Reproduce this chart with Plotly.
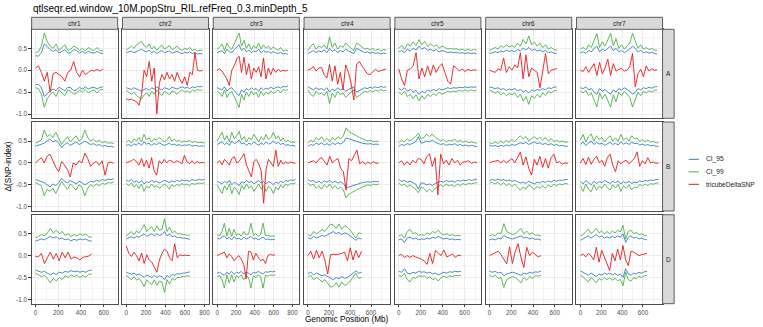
import numpy as np
import plotly.graph_objects as go

CHROMS = ["chr1", "chr2", "chr3", "chr4", "chr5", "chr6", "chr7"]
GENOMES = ["A", "B", "D"]

# chromosome lengths (Mb) for each sub-genome
LEN_A = [594, 780, 750, 744, 709, 618, 736]
LEN_B = [689, 801, 830, 673, 713, 720, 750]
LEN_D = [495, 651, 615, 509, 566, 473, 638]

Y_TICKS = [-1.0, -0.5, 0.0, 0.5]
Y_TICK_TEXT = ["-1.0", "-0.5", "0.0", "0.5"]
Y_MINOR = [-0.75, -0.25, 0.25, 0.75]
X_TICKS = [0, 200, 400, 600, 800]
X_MINOR = [100, 300, 500, 700]

TITLE = "qtlseqr.ed.window_10M.popStru_RIL.refFreq_0.3.minDepth_5"
X_TITLE = "Genomic Position (Mb)"
Y_TITLE = "Δ(SNP-index)"
LEGEND_NAMES = ["CI_95", "CI_99", "tricubeDeltaSNP"]

# ---- sub-genome A -------------------------------------------------------
CI95_1A = [0.33, 0.32, 0.40, 0.60, 0.54, 0.47, 0.43, 0.47, 0.39, 0.43, 0.47, 0.39, 0.40, 0.47, 0.45, 0.39, 0.43, 0.38, 0.43, 0.40, 0.39, 0.43, 0.39, 0.38]
CI99_1A = [0.40, 0.42, 0.55, 0.85, 0.65, 0.55, 0.50, 0.60, 0.45, 0.52, 0.58, 0.45, 0.48, 0.55, 0.52, 0.45, 0.50, 0.44, 0.52, 0.47, 0.45, 0.52, 0.45, 0.44]
DELTA_1A = [0.05, 0.10, -0.05, -0.25, -0.05, -0.50, -0.08, -0.05, -0.10, -0.15, -0.25, -0.05, 0.00, 0.20, -0.05, -0.15, 0.00, -0.10, -0.05, 0.00, -0.02, 0.02, -0.02, 0.03]

CI95_2A = [0.40, 0.42, 0.44, 0.40, 0.43, 0.45, 0.48, 0.44, 0.42, 0.46, 0.40, 0.43, 0.38, 0.42, 0.45, 0.40, 0.42, 0.44, 0.39, 0.41, 0.43, 0.40, 0.38, 0.41, 0.39, 0.42, 0.38, 0.40, 0.37, 0.38, 0.37]
CI99_2A = [0.46, 0.50, 0.55, 0.50, 0.58, 0.62, 0.66, 0.56, 0.52, 0.60, 0.48, 0.55, 0.45, 0.52, 0.58, 0.48, 0.52, 0.56, 0.47, 0.50, 0.55, 0.48, 0.45, 0.50, 0.47, 0.52, 0.45, 0.48, 0.44, 0.46, 0.45]
DELTA_2A = [-0.65, -0.68, -0.66, -0.70, -0.72, -0.80, -0.55, 0.00, -0.15, 0.20, -0.25, 0.05, -1.00, -0.30, -0.10, -0.22, -0.05, -0.20, -0.10, -0.25, -0.05, -0.20, -0.30, -0.15, -0.35, -0.05, -0.10, 0.40, 0.00, -0.02, 0.00]

CI95_3A = [0.40, 0.42, 0.45, 0.38, 0.48, 0.42, 0.40, 0.47, 0.52, 0.58, 0.45, 0.50, 0.42, 0.46, 0.40, 0.44, 0.42, 0.48, 0.40, 0.45, 0.41, 0.43, 0.39, 0.42, 0.40, 0.38, 0.41, 0.37, 0.38, 0.36]
CI99_3A = [0.48, 0.52, 0.60, 0.45, 0.62, 0.52, 0.48, 0.60, 0.70, 0.85, 0.55, 0.68, 0.50, 0.60, 0.47, 0.56, 0.50, 0.62, 0.48, 0.58, 0.50, 0.55, 0.47, 0.53, 0.49, 0.45, 0.52, 0.44, 0.46, 0.44]
DELTA_3A = [0.00, 0.03, -0.02, -0.10, -0.20, -0.35, 0.00, 0.10, 0.25, 0.32, -0.05, 0.30, -0.10, 0.15, -0.20, 0.05, -0.05, 0.08, -0.15, 0.28, -0.20, 0.05, -0.10, 0.05, -0.05, 0.02, -0.03, 0.00, -0.02, 0.00]

CI95_4A = [0.38, 0.42, 0.45, 0.40, 0.44, 0.42, 0.46, 0.40, 0.50, 0.43, 0.47, 0.40, 0.45, 0.42, 0.48, 0.44, 0.41, 0.38, 0.50, 0.47, 0.43, 0.40, 0.42, 0.39, 0.41, 0.38, 0.40, 0.37, 0.39, 0.38]
CI99_4A = [0.45, 0.55, 0.60, 0.48, 0.55, 0.52, 0.58, 0.48, 0.76, 0.52, 0.62, 0.48, 0.56, 0.52, 0.62, 0.55, 0.50, 0.45, 0.62, 0.58, 0.52, 0.48, 0.50, 0.46, 0.50, 0.45, 0.48, 0.44, 0.47, 0.46]
DELTA_4A = [0.00, 0.03, 0.08, -0.02, 0.05, 0.06, -0.10, -0.18, 0.13, -0.25, 0.10, -0.32, -0.05, -0.45, 0.12, -0.05, -0.30, -0.68, 0.13, 0.20, 0.10, 0.02, -0.08, -0.10, -0.05, 0.02, -0.03, -0.01, 0.00, 0.03]

CI95_5A = [0.42, 0.45, 0.40, 0.48, 0.44, 0.50, 0.46, 0.55, 0.48, 0.52, 0.45, 0.48, 0.44, 0.47, 0.42, 0.45, 0.43, 0.40, 0.42, 0.40, 0.41, 0.39, 0.40, 0.38, 0.40, 0.38, 0.39, 0.38]
CI99_5A = [0.50, 0.56, 0.48, 0.60, 0.55, 0.65, 0.56, 0.70, 0.58, 0.66, 0.55, 0.60, 0.54, 0.58, 0.50, 0.55, 0.52, 0.48, 0.50, 0.48, 0.49, 0.46, 0.48, 0.45, 0.48, 0.45, 0.47, 0.46]
DELTA_5A = [0.03, -0.20, -0.35, 0.00, 0.03, 0.10, 0.40, -0.20, 0.05, -0.15, 0.10, -0.12, 0.12, -0.05, 0.08, 0.15, -0.05, -0.25, -0.32, 0.10, 0.05, -0.02, 0.03, -0.03, 0.02, -0.01, 0.01, 0.00]

CI95_6A = [0.38, 0.40, 0.42, 0.40, 0.44, 0.42, 0.46, 0.43, 0.45, 0.42, 0.47, 0.44, 0.50, 0.46, 0.52, 0.45, 0.48, 0.44, 0.46, 0.42, 0.45, 0.40, 0.42, 0.39, 0.38]
CI99_6A = [0.45, 0.48, 0.52, 0.48, 0.56, 0.52, 0.58, 0.53, 0.56, 0.52, 0.62, 0.55, 0.70, 0.60, 0.78, 0.58, 0.64, 0.55, 0.62, 0.52, 0.58, 0.48, 0.52, 0.47, 0.46]
DELTA_6A = [0.00, -0.03, -0.05, 0.03, 0.00, 0.28, -0.05, 0.08, 0.00, 0.12, 0.05, 0.40, -0.20, 0.35, -0.15, 0.05, 0.00, -0.05, -0.40, -0.05, 0.38, -0.08, 0.00, 0.02, 0.04]

CI95_7A = [0.40, 0.42, 0.38, 0.45, 0.42, 0.50, 0.55, 0.42, 0.48, 0.44, 0.50, 0.55, 0.45, 0.50, 0.42, 0.45, 0.40, 0.44, 0.48, 0.55, 0.50, 0.42, 0.45, 0.40, 0.42, 0.39, 0.41, 0.38, 0.37]
CI99_7A = [0.48, 0.52, 0.46, 0.58, 0.52, 0.68, 0.84, 0.52, 0.65, 0.55, 0.70, 0.84, 0.56, 0.72, 0.50, 0.58, 0.48, 0.55, 0.62, 0.84, 0.68, 0.50, 0.58, 0.48, 0.52, 0.47, 0.50, 0.46, 0.45]
DELTA_7A = [0.00, -0.03, 0.08, -0.05, 0.05, 0.15, -0.12, 0.18, -0.08, 0.05, 0.25, -0.12, 0.15, -0.02, 0.02, 0.04, -0.02, 0.00, 0.08, 0.38, -0.38, -0.08, 0.02, -0.15, 0.10, -0.02, 0.03, 0.00, 0.01]

# ---- sub-genome B -------------------------------------------------------
CI95_1B = [0.38, 0.40, 0.42, 0.45, 0.50, 0.55, 0.48, 0.52, 0.45, 0.35, 0.42, 0.46, 0.40, 0.44, 0.48, 0.42, 0.45, 0.50, 0.46, 0.42, 0.44, 0.40, 0.42, 0.38, 0.40, 0.37, 0.38, 0.36]
CI99_1B = [0.45, 0.48, 0.52, 0.75, 0.60, 0.65, 0.58, 0.70, 0.55, 0.42, 0.52, 0.60, 0.48, 0.55, 0.62, 0.50, 0.55, 0.75, 0.58, 0.50, 0.54, 0.48, 0.52, 0.46, 0.49, 0.45, 0.46, 0.44]
DELTA_1B = [0.00, 0.05, 0.12, 0.00, 0.15, 0.20, 0.05, -0.10, -0.20, 0.03, -0.05, -0.15, -0.32, 0.00, -0.05, 0.05, 0.00, 0.22, 0.10, -0.08, 0.00, 0.03, -0.05, 0.05, -0.28, 0.00, 0.02, -0.01]

CI95_2B = [0.40, 0.42, 0.38, 0.44, 0.41, 0.46, 0.40, 0.48, 0.43, 0.45, 0.40, 0.44, 0.42, 0.46, 0.43, 0.40, 0.42, 0.45, 0.41, 0.43, 0.40, 0.42, 0.39, 0.41, 0.40, 0.42, 0.38, 0.40, 0.39, 0.38, 0.39, 0.38]
CI99_2B = [0.47, 0.52, 0.45, 0.55, 0.50, 0.58, 0.48, 0.65, 0.53, 0.57, 0.48, 0.55, 0.52, 0.58, 0.54, 0.48, 0.52, 0.60, 0.50, 0.54, 0.49, 0.52, 0.47, 0.50, 0.48, 0.52, 0.46, 0.49, 0.47, 0.46, 0.47, 0.45]
DELTA_2B = [0.00, 0.02, 0.05, 0.08, 0.03, -0.05, 0.10, -0.08, 0.06, -0.12, 0.12, -0.18, -0.28, 0.05, -0.02, 0.08, 0.00, 0.06, 0.04, 0.00, 0.05, 0.02, -0.02, 0.17, 0.03, -0.02, 0.05, -0.02, 0.03, 0.00, 0.01, 0.00]

CI95_3B = [0.42, 0.45, 0.48, 0.42, 0.46, 0.40, 0.50, 0.44, 0.47, 0.52, 0.43, 0.46, 0.40, 0.45, 0.42, 0.48, 0.44, 0.40, 0.46, 0.42, 0.48, 0.43, 0.45, 0.50, 0.44, 0.47, 0.42, 0.45, 0.40, 0.42, 0.39, 0.40, 0.38]
CI99_3B = [0.50, 0.60, 0.70, 0.52, 0.62, 0.48, 0.70, 0.55, 0.62, 0.72, 0.52, 0.60, 0.48, 0.58, 0.52, 0.65, 0.55, 0.48, 0.60, 0.52, 0.65, 0.53, 0.58, 0.70, 0.55, 0.62, 0.50, 0.57, 0.48, 0.52, 0.47, 0.48, 0.46]
DELTA_3B = [0.00, 0.05, -0.04, 0.08, 0.02, -0.05, 0.10, 0.14, 0.00, 0.04, 0.12, 0.21, -0.05, -0.20, -0.32, 0.03, 0.08, -0.02, -0.18, -0.92, -0.15, 0.08, 0.00, -0.08, 0.29, -0.08, 0.06, -0.03, 0.02, -0.01, 0.02, 0.00, -0.01]

CI95_4B = [0.38, 0.42, 0.40, 0.45, 0.42, 0.46, 0.41, 0.44, 0.40, 0.45, 0.42, 0.46, 0.43, 0.47, 0.57, 0.55, 0.52, 0.50, 0.48, 0.47, 0.45, 0.44, 0.43, 0.44, 0.42, 0.43, 0.42]
CI99_4B = [0.45, 0.52, 0.48, 0.58, 0.52, 0.60, 0.50, 0.56, 0.48, 0.58, 0.52, 0.60, 0.55, 0.62, 0.80, 0.72, 0.68, 0.64, 0.60, 0.58, 0.55, 0.52, 0.50, 0.52, 0.48, 0.50, 0.48]
DELTA_4B = [0.00, 0.03, 0.05, 0.00, 0.08, 0.12, 0.02, -0.05, 0.15, 0.00, 0.06, 0.10, -0.12, -0.20, -0.62, 0.10, 0.05, 0.18, 0.29, -0.02, 0.03, -0.03, 0.02, -0.02, 0.03, -0.01, 0.00]

CI95_5B = [0.38, 0.42, 0.40, 0.44, 0.42, 0.45, 0.48, 0.60, 0.45, 0.47, 0.50, 0.48, 0.52, 0.47, 0.45, 0.42, 0.44, 0.40, 0.43, 0.41, 0.44, 0.40, 0.42, 0.39, 0.41, 0.38, 0.40, 0.38, 0.37]
CI99_5B = [0.46, 0.52, 0.48, 0.55, 0.50, 0.55, 0.60, 0.68, 0.55, 0.58, 0.66, 0.60, 0.66, 0.58, 0.55, 0.50, 0.54, 0.48, 0.52, 0.50, 0.54, 0.48, 0.52, 0.47, 0.50, 0.46, 0.48, 0.46, 0.45]
DELTA_5B = [0.00, 0.05, -0.05, 0.03, -0.05, 0.06, 0.00, 0.10, 0.08, -0.02, 0.14, 0.21, -0.08, 0.12, -0.73, 0.20, -0.02, 0.06, -0.05, 0.10, 0.00, 0.06, -0.05, 0.02, 0.03, 0.05, -0.01, 0.02, 0.00]

CI95_6B = [0.40, 0.38, 0.40, 0.37, 0.40, 0.38, 0.41, 0.39, 0.42, 0.40, 0.43, 0.46, 0.44, 0.47, 0.42, 0.45, 0.48, 0.44, 0.46, 0.42, 0.45, 0.41, 0.44, 0.40, 0.42, 0.39, 0.40, 0.38, 0.38]
CI99_6B = [0.46, 0.44, 0.48, 0.44, 0.50, 0.45, 0.52, 0.47, 0.54, 0.48, 0.56, 0.62, 0.55, 0.60, 0.50, 0.56, 0.60, 0.54, 0.58, 0.52, 0.58, 0.50, 0.55, 0.49, 0.52, 0.48, 0.50, 0.47, 0.48]
DELTA_6B = [0.00, 0.03, 0.04, 0.06, 0.00, 0.06, 0.00, 0.05, 0.10, 0.00, 0.12, 0.25, -0.05, 0.14, -0.12, -0.28, 0.08, -0.05, 0.15, -0.10, 0.10, -0.12, 0.12, 0.20, 0.00, 0.03, -0.03, 0.00, -0.01]

CI95_7B = [0.42, 0.48, 0.40, 0.46, 0.50, 0.42, 0.47, 0.43, 0.45, 0.40, 0.44, 0.47, 0.42, 0.45, 0.41, 0.48, 0.43, 0.46, 0.42, 0.47, 0.44, 0.45, 0.41, 0.43, 0.40, 0.42, 0.39, 0.40, 0.38, 0.38]
CI99_7B = [0.52, 0.65, 0.48, 0.60, 0.66, 0.50, 0.62, 0.53, 0.58, 0.48, 0.56, 0.62, 0.50, 0.57, 0.49, 0.65, 0.52, 0.58, 0.50, 0.62, 0.55, 0.57, 0.49, 0.53, 0.48, 0.52, 0.47, 0.49, 0.46, 0.46]
DELTA_7B = [0.00, 0.10, -0.04, 0.13, -0.03, 0.08, 0.15, 0.00, 0.06, -0.08, 0.12, 0.20, -0.05, -0.20, 0.05, -0.02, 0.03, 0.06, -0.02, 0.03, 0.10, 0.25, -0.08, 0.05, -0.02, 0.12, 0.00, 0.02, -0.01, 0.00]

# ---- sub-genome D -------------------------------------------------------
CI95_1D = [0.33, 0.35, 0.38, 0.36, 0.40, 0.44, 0.40, 0.43, 0.38, 0.40, 0.36, 0.38, 0.34, 0.37, 0.35, 0.38, 0.36, 0.38, 0.34, 0.33]
CI99_1D = [0.40, 0.45, 0.48, 0.45, 0.52, 0.62, 0.52, 0.58, 0.50, 0.55, 0.46, 0.50, 0.44, 0.48, 0.45, 0.50, 0.46, 0.49, 0.43, 0.42]
DELTA_1D = [-0.02, -0.03, 0.05, -0.18, -0.05, 0.08, -0.08, 0.05, -0.12, 0.08, -0.05, 0.08, -0.08, -0.03, -0.05, -0.10, -0.04, -0.02, -0.01, 0.04]

CI95_2D = [0.38, 0.40, 0.43, 0.40, 0.44, 0.42, 0.46, 0.50, 0.44, 0.48, 0.50, 0.45, 0.50, 0.46, 0.48, 0.55, 0.45, 0.50, 0.43, 0.45, 0.41, 0.42, 0.40, 0.40, 0.38, 0.37]
CI99_2D = [0.45, 0.50, 0.55, 0.48, 0.56, 0.52, 0.60, 0.71, 0.55, 0.62, 0.66, 0.55, 0.68, 0.58, 0.60, 0.84, 0.55, 0.65, 0.52, 0.56, 0.50, 0.50, 0.48, 0.48, 0.46, 0.47]
DELTA_2D = [0.22, 0.05, -0.02, 0.08, 0.00, -0.12, 0.06, -0.18, 0.02, -0.10, -0.15, -0.25, -0.38, -0.10, 0.05, 0.15, 0.10, -0.05, -0.12, 0.27, -0.05, 0.02, 0.00, 0.01, 0.00, 0.00]

CI95_3D = [0.40, 0.38, 0.42, 0.45, 0.38, 0.42, 0.36, 0.43, 0.38, 0.40, 0.36, 0.42, 0.38, 0.40, 0.44, 0.38, 0.40, 0.36, 0.39, 0.42, 0.37, 0.38, 0.36, 0.37, 0.36]
CI99_3D = [0.48, 0.45, 0.55, 0.74, 0.45, 0.62, 0.44, 0.60, 0.46, 0.50, 0.44, 0.55, 0.47, 0.50, 0.74, 0.46, 0.50, 0.44, 0.48, 0.74, 0.45, 0.47, 0.44, 0.45, 0.44]
DELTA_3D = [0.00, 0.03, 0.05, 0.08, -0.05, 0.04, -0.02, -0.12, -0.05, 0.00, -0.08, -0.20, -0.53, 0.10, 0.08, -0.10, 0.05, -0.05, -0.12, -0.08, -0.18, 0.00, 0.03, 0.01, 0.02]

CI95_4D = [0.41, 0.38, 0.44, 0.40, 0.43, 0.46, 0.44, 0.48, 0.52, 0.55, 0.50, 0.53, 0.48, 0.52, 0.50, 0.45, 0.42, 0.35, 0.40, 0.38]
CI99_4D = [0.48, 0.45, 0.55, 0.50, 0.54, 0.60, 0.55, 0.65, 0.72, 0.70, 0.62, 0.72, 0.60, 0.68, 0.65, 0.58, 0.50, 0.40, 0.52, 0.50]
DELTA_4D = [0.00, 0.10, -0.08, 0.12, -0.05, 0.10, -0.10, -0.42, 0.02, 0.03, 0.02, 0.03, 0.05, 0.08, -0.12, 0.18, -0.10, 0.12, -0.05, 0.10]

CI95_5D = [0.36, 0.38, 0.30, 0.40, 0.42, 0.38, 0.40, 0.36, 0.38, 0.37, 0.40, 0.38, 0.42, 0.40, 0.44, 0.40, 0.38, 0.40, 0.37, 0.38, 0.36, 0.37, 0.36]
CI99_5D = [0.45, 0.48, 0.40, 0.55, 0.60, 0.50, 0.52, 0.46, 0.48, 0.46, 0.52, 0.48, 0.55, 0.52, 0.58, 0.50, 0.47, 0.50, 0.46, 0.48, 0.45, 0.46, 0.45]
DELTA_5D = [0.00, 0.03, -0.04, 0.00, -0.04, 0.00, -0.03, -0.05, -0.08, -0.12, -0.20, 0.05, -0.18, 0.12, 0.05, 0.00, 0.13, -0.03, 0.00, 0.04, -0.04, 0.01, 0.00]

CI95_6D = [0.36, 0.38, 0.36, 0.40, 0.38, 0.46, 0.42, 0.40, 0.38, 0.40, 0.42, 0.45, 0.40, 0.42, 0.38, 0.40, 0.37, 0.38, 0.35]
CI99_6D = [0.45, 0.48, 0.45, 0.52, 0.50, 0.73, 0.55, 0.52, 0.48, 0.50, 0.55, 0.62, 0.50, 0.56, 0.48, 0.52, 0.46, 0.47, 0.45]
DELTA_6D = [0.00, 0.03, 0.06, 0.10, 0.02, -0.10, -0.19, 0.20, -0.18, 0.10, 0.27, -0.05, -0.27, 0.19, 0.00, 0.08, 0.03, -0.03, 0.00]

CI95_7D = [0.35, 0.38, 0.42, 0.45, 0.40, 0.44, 0.48, 0.42, 0.45, 0.40, 0.43, 0.40, 0.44, 0.41, 0.45, 0.42, 0.50, 0.30, 0.42, 0.45, 0.40, 0.42, 0.38, 0.40, 0.37, 0.36]
CI99_7D = [0.45, 0.48, 0.55, 0.60, 0.50, 0.55, 0.62, 0.52, 0.56, 0.50, 0.55, 0.50, 0.56, 0.52, 0.58, 0.54, 0.69, 0.38, 0.55, 0.58, 0.50, 0.53, 0.47, 0.50, 0.46, 0.45]
DELTA_7D = [0.00, 0.04, -0.03, 0.05, 0.00, -0.10, 0.19, -0.15, 0.12, -0.05, -0.20, -0.34, 0.05, -0.12, 0.15, -0.10, 0.23, -0.10, -0.23, 0.10, 0.08, 0.04, 0.00, 0.02, 0.04, 0.05]

LENGTHS = {"A": LEN_A, "B": LEN_B, "D": LEN_D}

# colours (ColorBrewer Set1)
BLUE, GREEN, RED = "#377EB8", "#4DAF4A", "#E41A1C"
FONT = "Liberation Sans, Arial, sans-serif"

# page geometry in pixels
W, H = 763, 327
COL_LEFT, COL_PITCH, COL_W = 31.7, 91.05, 86.3
ROW_TOP, ROW_PITCH, ROW_H = 29.3, 92.7, 89.0
STRIP_H = 12.0
STRIP_W = 11.6
Y_RANGE = [-1.098, 0.934]
BORDER = "#4D4D4D"


def fx(p):
    return p / W


def fy(p):
    return 1 - p / H


fig = go.Figure()
axes = {}
shapes = []
annotations = []

col_max = [max(LEN_A[c], LEN_B[c], LEN_D[c]) for c in range(len(CHROMS))]

for r, g in enumerate(GENOMES):
    for c, chrom in enumerate(CHROMS):
        k = r * len(CHROMS) + c + 1
        xref = "x" if k == 1 else f"x{k}"
        yref = "y" if k == 1 else f"y{k}"
        L = LENGTHS[g][c]
        ci95 = np.array(globals()[f"CI95_{c + 1}{g}"])
        ci99 = np.array(globals()[f"CI99_{c + 1}{g}"])
        delta = np.array(globals()[f"DELTA_{c + 1}{g}"])

        for vals, color, name in ((ci95, BLUE, "CI_95"), (ci99, GREEN, "CI_99")):
            pos = np.linspace(0, L, len(vals))
            for sign in (1, -1):
                fig.add_trace(go.Scatter(
                    x=pos, y=sign * vals, mode="lines", name=name,
                    line=dict(color=color, width=0.9),
                    xaxis=xref, yaxis=yref, showlegend=False, hoverinfo="skip"))
        pos = np.linspace(0, L, len(delta))
        fig.add_trace(go.Scatter(
            x=pos, y=delta, mode="lines", name="tricubeDeltaSNP",
            line=dict(color=RED, width=0.9),
            xaxis=xref, yaxis=yref, showlegend=False, hoverinfo="skip"))

        x0 = COL_LEFT + c * COL_PITCH
        x1 = x0 + COL_W
        y0 = ROW_TOP + r * ROW_PITCH
        y1 = y0 + ROW_H
        M = col_max[c]
        bottom = r == len(GENOMES) - 1
        left = c == 0

        axes["xaxis" + ("" if k == 1 else str(k))] = dict(
            domain=[fx(x0), fx(x1)], anchor=yref, range=[-0.05 * M, 1.05 * M],
            tickvals=X_TICKS, ticktext=[str(v) for v in X_TICKS],
            showticklabels=bottom, ticks="outside" if bottom else "",
            ticklen=2.5, tickwidth=0.7, tickcolor="#333333",
            tickfont=dict(family=FONT, size=6.3, color="#4D4D4D"),
            showgrid=True, gridcolor="#EBEBEB", gridwidth=0.8,
            minor=dict(tickvals=X_MINOR, showgrid=True, gridcolor="#F4F4F4", gridwidth=0.5),
            zeroline=False, showline=True, mirror=True, linecolor=BORDER, linewidth=0.9,
            fixedrange=True)
        axes["yaxis" + ("" if k == 1 else str(k))] = dict(
            domain=[fy(y1), fy(y0)], anchor=xref, range=Y_RANGE,
            tickvals=Y_TICKS, ticktext=Y_TICK_TEXT,
            showticklabels=left, ticks="outside" if left else "",
            ticklen=2.5, tickwidth=0.7, tickcolor="#333333",
            tickfont=dict(family=FONT, size=6.3, color="#4D4D4D"),
            showgrid=True, gridcolor="#EBEBEB", gridwidth=0.8,
            minor=dict(tickvals=Y_MINOR, showgrid=True, gridcolor="#F4F4F4", gridwidth=0.5),
            zeroline=False, showline=True, mirror=True, linecolor=BORDER, linewidth=0.9,
            fixedrange=True)

        # column strip on top row
        if r == 0:
            shapes.append(dict(type="rect", xref="paper", yref="paper",
                               x0=fx(x0), x1=fx(x1), y0=fy(y0), y1=fy(y0 - STRIP_H),
                               fillcolor="#D9D9D9", line=dict(color=BORDER, width=0.9)))
            annotations.append(dict(text=chrom, xref="paper", yref="paper",
                                    x=fx((x0 + x1) / 2), y=fy(y0 - STRIP_H / 2),
                                    xanchor="center", yanchor="middle", showarrow=False,
                                    font=dict(family=FONT, size=6.5, color="#1A1A1A")))
        # row strip on right column
        if c == len(CHROMS) - 1:
            shapes.append(dict(type="rect", xref="paper", yref="paper",
                               x0=fx(x1), x1=fx(x1 + STRIP_W), y0=fy(y1), y1=fy(y0),
                               fillcolor="#D9D9D9", line=dict(color=BORDER, width=0.9)))
            annotations.append(dict(text=g, xref="paper", yref="paper",
                                    x=fx(x1 + STRIP_W / 2), y=fy((y0 + y1) / 2),
                                    xanchor="center", yanchor="middle", showarrow=False,
                                    font=dict(family=FONT, size=6.5, color="#1A1A1A")))

# title and axis titles
annotations.append(dict(text=TITLE, xref="paper", yref="paper", x=fx(31.0), y=fy(8.0),
                        xanchor="left", yanchor="middle", showarrow=False,
                        font=dict(family=FONT, size=10, color="#000000")))
annotations.append(dict(text=X_TITLE, xref="paper", yref="paper", x=fx(348.3), y=fy(319.0),
                        xanchor="center", yanchor="middle", showarrow=False,
                        font=dict(family=FONT, size=8.2, color="#000000")))
annotations.append(dict(text=Y_TITLE, xref="paper", yref="paper", x=fx(9.0), y=fy(166.5),
                        xanchor="center", yanchor="middle", showarrow=False, textangle=-90,
                        font=dict(family=FONT, size=8.2, color="#000000")))

# legend keys
for i, (name, color) in enumerate(zip(LEGEND_NAMES, (BLUE, GREEN, RED))):
    ky = 159.3 + i * 12.5
    shapes.append(dict(type="line", xref="paper", yref="paper",
                       x0=fx(690.5), x1=fx(700.8), y0=fy(ky), y1=fy(ky),
                       line=dict(color=color, width=1.0)))
    annotations.append(dict(text=name, xref="paper", yref="paper", x=fx(706.0), y=fy(ky),
                            xanchor="left", yanchor="middle", showarrow=False,
                            font=dict(family=FONT, size=6.6, color="#1A1A1A")))

fig.update_layout(
    width=W, height=H, margin=dict(l=0, r=0, t=0, b=0),
    paper_bgcolor="white", plot_bgcolor="white",
    showlegend=False, shapes=shapes, annotations=annotations,
    **axes)

fig.write_html("out.html")
